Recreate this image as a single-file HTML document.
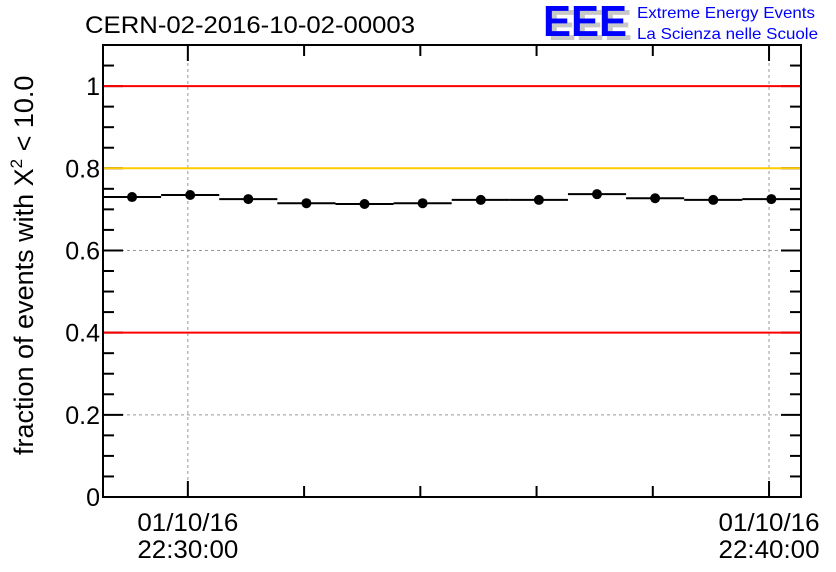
<!DOCTYPE html>
<html><head><meta charset="utf-8"><style>
html,body{margin:0;padding:0;background:#fff}
svg{display:block;font-family:"Liberation Sans",sans-serif}
</style></head><body>
<svg id="chart" width="836" height="572" viewBox="0 0 836 572" xmlns="http://www.w3.org/2000/svg">
<text x="85" y="33" font-size="24" fill="#000" textLength="330" lengthAdjust="spacingAndGlyphs">CERN-02-2016-10-02-00003</text>
<g>
<text x="548" y="40" font-size="44" font-weight="bold" fill="#c8c8c8" textLength="84" lengthAdjust="spacingAndGlyphs">EEE</text>
<text x="543" y="36" font-size="44" font-weight="bold" fill="#0000ff" textLength="84" lengthAdjust="spacingAndGlyphs">EEE</text>
<text x="637" y="18" font-size="16" fill="#0000ff" textLength="178" lengthAdjust="spacingAndGlyphs">Extreme Energy Events</text>
<text x="637" y="39" font-size="16" fill="#0000ff" textLength="181" lengthAdjust="spacingAndGlyphs">La Scienza nelle Scuole</text>
</g>
<text transform="translate(33,455) rotate(-90)" font-size="27" fill="#000">fraction of events with X<tspan dy="-11" font-size="17">2</tspan><tspan dy="11"> &lt; 10.0</tspan></text>
<g id="grid"></g>
<g id="axes"></g>
<g id="lines"></g>
<g id="series"></g>
</svg>
<script>
// data
const binStartMinutes = [-1.46,-0.46,0.54,1.54,2.54,3.54,4.54,5.54,6.54,7.54,8.54,9.54];
const fractionValues = [0.730,0.735,0.725,0.715,0.713,0.715,0.723,0.723,0.737,0.727,0.723,0.725];
const yTickValues = [0,0.2,0.4,0.6,0.8,1];
const yTickLabels = ["0","0.2","0.4","0.6","0.8","1"];
const xTickMinutes = [0,10];
const xTickDates = ["01/10/16","01/10/16"];
const xTickTimes = ["22:30:00","22:40:00"];
const thresholdValues = [1.0,0.8,0.4];
const thresholdColors = ["#ff0000","#ffcc00","#ff0000"];

const L=103,R=801,T=45,B=497;
const xMin=-1.46,xMax=10.55,yMin=0,yMax=1.1;
const X=m=>L+(m-xMin)/(xMax-xMin)*(R-L);
const Y=v=>B-(v-yMin)/(yMax-yMin)*(B-T);
const NS="http://www.w3.org/2000/svg";
function mk(tag,parent,attrs){const e=document.createElementNS(NS,tag);for(const k in attrs)e.setAttribute(k,attrs[k]);document.getElementById(parent).appendChild(e);return e;}

// grid
yTickValues.forEach(v=>{if(v===0)return;
 const g=mk('line','grid',{x1:L,x2:R,y1:Y(v),y2:Y(v),stroke:'#999','stroke-dasharray':'3,3','stroke-width':1});
 
 });
xTickMinutes.forEach(m=>{
 const g=mk('line','grid',{x1:X(m),x2:X(m),y1:T,y2:B,stroke:'#999','stroke-dasharray':'3,3','stroke-width':1});
 
 });

// axes frame
const f=mk('rect','axes',{x:L,y:T,width:R-L,height:B-T,fill:'none',stroke:'#000','stroke-width':2});


for(let k=0;k<=22;k++){const v=k*0.05;const major=k%4===0;const len=major?20:11;
 mk('line','axes',{x1:L,x2:L+len,y1:Y(v),y2:Y(v),stroke:'#000','stroke-width':2});
 mk('line','axes',{x1:R,x2:R-len,y1:Y(v),y2:Y(v),stroke:'#000','stroke-width':2});}
yTickValues.forEach((v,i)=>{
 const t=mk('text','axes',{x:L-3,y:Y(v)+9,'text-anchor':'end','font-size':25,fill:'#000'});
 t.textContent=yTickLabels[i];
 
 });
for(let m=0;m<=10;m+=2){const len=(m%10===0)?16:11;
 mk('line','axes',{x1:X(m),x2:X(m),y1:B,y2:B-len,stroke:'#000','stroke-width':2});
 mk('line','axes',{x1:X(m),x2:X(m),y1:T,y2:T+len,stroke:'#000','stroke-width':2});}
xTickMinutes.forEach((m,i)=>{
 const t1=mk('text','axes',{x:X(m),y:531,'text-anchor':'middle','font-size':25,fill:'#000',textLength:101,lengthAdjust:'spacingAndGlyphs'});
 t1.textContent=xTickDates[i];
 
 
 const t2=mk('text','axes',{x:X(m),y:558,'text-anchor':'middle','font-size':25,fill:'#000',textLength:101,lengthAdjust:'spacingAndGlyphs'});
 t2.textContent=xTickTimes[i];
 
 });

// thresholds
thresholdValues.forEach((v,i)=>{
 const l=mk('line','lines',{x1:L+1,x2:R-1,y1:Y(v),y2:Y(v),stroke:thresholdColors[i],'stroke-width':2});
 
 });

// series
fractionValues.forEach((v,i)=>{
 const x0=X(binStartMinutes[i]),x1=X(binStartMinutes[i]+1);
 const s=mk('line','series',{x1:x0,x2:x1,y1:Y(v),y2:Y(v),stroke:'#000','stroke-width':2});
 
 
 const c=mk('circle','series',{cx:(x0+x1)/2,cy:Y(v),r:5,fill:'#000'});
 
 });
</script>
</body></html>
